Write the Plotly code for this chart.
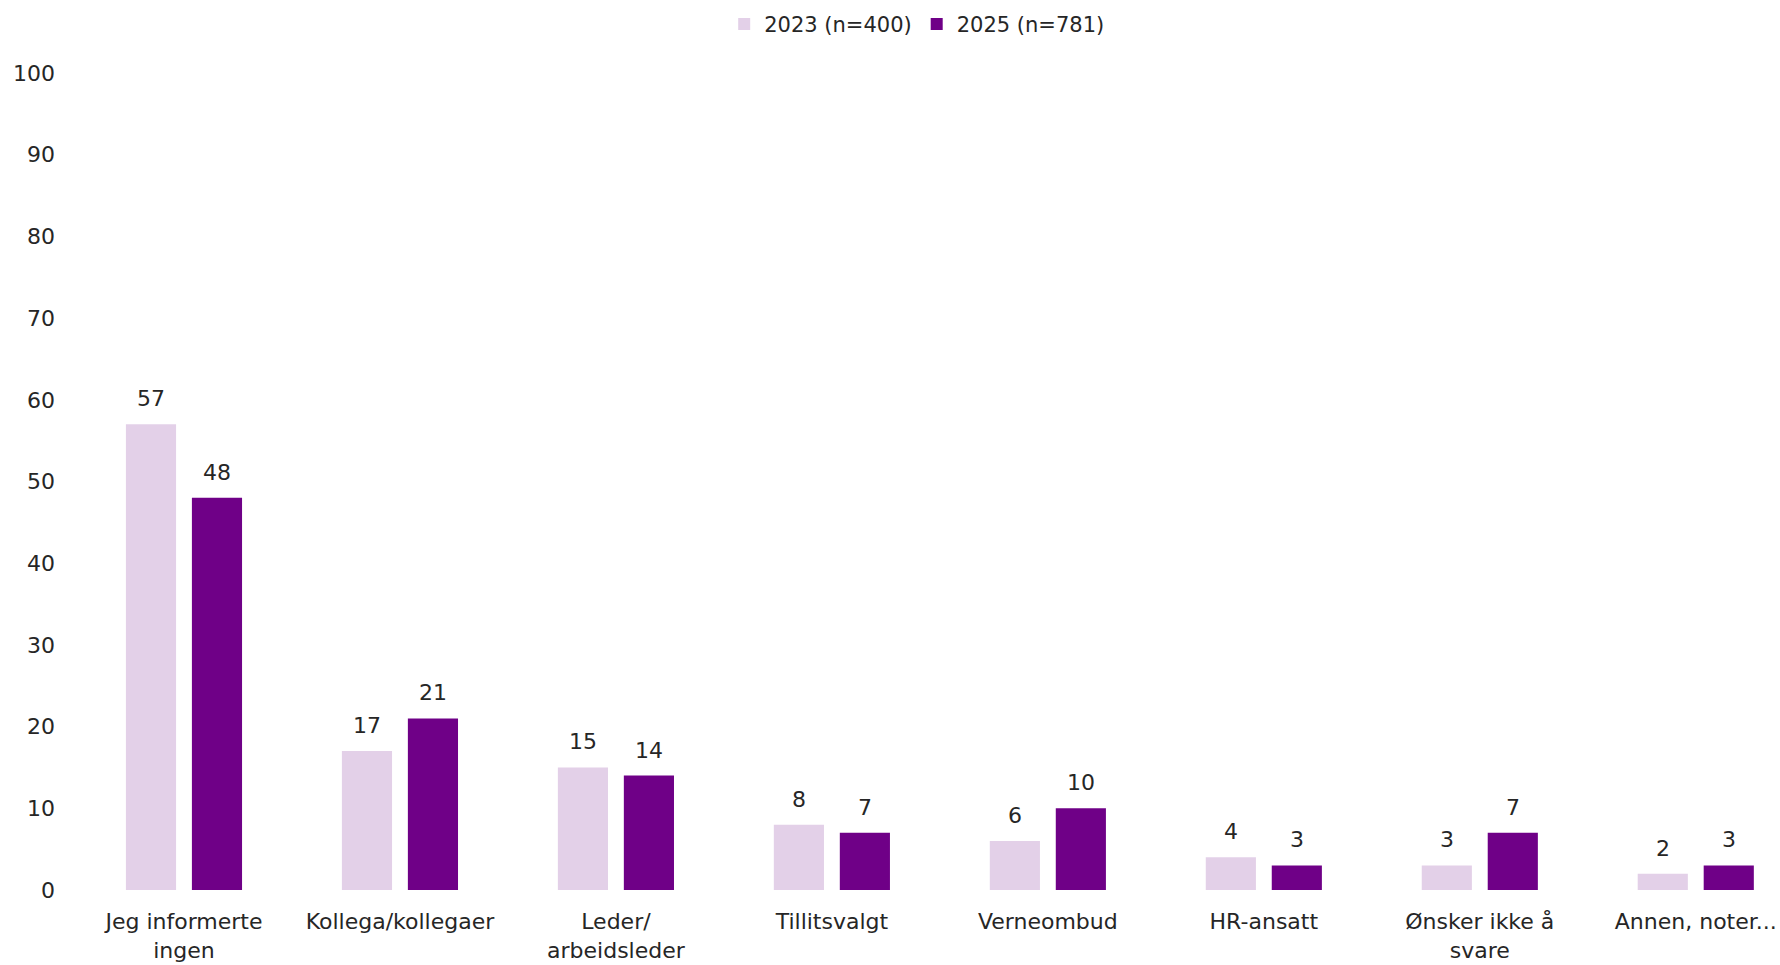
import plotly.graph_objects as go

categories = [
    "Jeg informerte<br>ingen",
    "Kollega/kollegaer",
    "Leder/<br>arbeidsleder",
    "Tillitsvalgt",
    "Verneombud",
    "HR-ansatt",
    "Ønsker ikke å<br>svare",
    "Annen, noter...",
]
values_2023 = [57, 17, 15, 8, 6, 4, 3, 2]
values_2025 = [48, 21, 14, 7, 10, 3, 7, 3]
series_names = ["2023 (n=400)", "2025 (n=781)"]
y_ticks = [0, 10, 20, 30, 40, 50, 60, 70, 80, 90, 100]

LIGHT = "#E3D0E8"
DARK = "#6F0087"
TEXT = "#262626"
FONT = "DejaVu Sans"
SIZE = 22

fig = go.Figure()
series = [(series_names[0], values_2023, LIGHT, -33),
          (series_names[1], values_2025, DARK, 33)]
for name, vals, color, shift in series:
    fig.add_trace(go.Bar(
        x=categories, y=vals, name=name,
        marker=dict(color=color, line=dict(width=0)),
    ))
    # value labels above each bar
    for cat, v in zip(categories, vals):
        fig.add_annotation(
            x=cat, y=v, text=str(v), showarrow=False,
            xshift=shift, yshift=11, yanchor="bottom",
            font=dict(size=SIZE, color=TEXT, family=FONT),
        )

fig.update_layout(
    width=1780, height=965,
    margin=dict(l=76, r=0, t=73, b=75),
    paper_bgcolor="white", plot_bgcolor="white",
    barmode="group", bargap=0.389, bargroupgap=0.24,
    font=dict(family=FONT, size=SIZE, color=TEXT),
    legend=dict(
        orientation="h", xref="container", yref="container",
        x=0.515, xanchor="center", y=0.996, yanchor="top",
        font=dict(size=21, color=TEXT, family=FONT),
        itemwidth=30, tracegroupgap=0,
    ),
    showlegend=True,
)
fig.update_xaxes(
    range=[-0.5, 7.39], showgrid=False, showline=False, zeroline=False,
    ticks="", ticklabelstandoff=16,
    tickfont=dict(size=SIZE, color=TEXT, family=FONT),
)
fig.update_yaxes(
    range=[0, 100], tickvals=y_ticks, showgrid=False, showline=False,
    zeroline=False, ticks="", ticklabelstandoff=20,
    tickfont=dict(size=SIZE, color=TEXT, family=FONT),
)

fig.write_html("out.html")
